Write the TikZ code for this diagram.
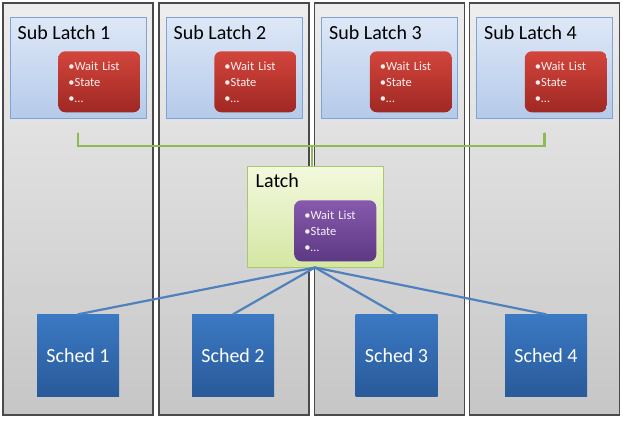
\documentclass[tikz,border=0pt]{standalone}
\usepackage{fontspec}
\setmainfont{Carlito}
\usetikzlibrary{positioning,calc}
\definecolor{colline}{HTML}{4A4A4A}
\definecolor{coltop}{HTML}{EDEDED}
\definecolor{colbot}{HTML}{C6C6C6}
\definecolor{subline}{HTML}{7FA3D4}
\definecolor{subtop}{HTML}{DEE8F7}
\definecolor{subbot}{HTML}{B5CAEA}
\definecolor{redtop}{HTML}{D2453C}
\definecolor{redbot}{HTML}{A02823}
\definecolor{latchline}{HTML}{A9C86C}
\definecolor{latchtop}{HTML}{F3F9DE}
\definecolor{latchbot}{HTML}{D4E6A3}
\definecolor{purptop}{HTML}{8659AC}
\definecolor{purpbot}{HTML}{5D3985}
\definecolor{schedtop}{HTML}{3B79C3}
\definecolor{schedbot}{HTML}{295A9A}
\definecolor{inkgreen}{HTML}{8DBB53}
\definecolor{inkblue}{HTML}{4F81BD}
\tikzset{column/.style={rectangle,draw=colline,line width=1.3pt,top color=coltop,bottom color=colbot,minimum width=150pt,minimum height=412pt,inner sep=0pt},sublatch/.style={rectangle,draw=subline,line width=1pt,top color=subtop,bottom color=subbot,minimum width=136pt,minimum height=101pt,inner sep=0pt},latchbox/.style={sublatch,draw=latchline,top color=latchtop,bottom color=latchbot},info/.style={rectangle,rounded corners=7pt,minimum width=82pt,minimum height=61pt,text width=62pt,inner xsep=10pt,inner ysep=0pt,align=left,font=\fontsize{12.5}{16}\selectfont},redinfo/.style={info,top color=redtop,bottom color=redbot,text=red!6},purpinfo/.style={info,top color=purptop,bottom color=purpbot,text=violet!6},title/.style={inner sep=0pt,font=\fontsize{20}{22}\selectfont},sched/.style={rectangle,top color=schedtop,bottom color=schedbot,minimum size=82pt,inner sep=0pt,text=white,font=\fontsize{20}{22}\selectfont},bracket/.style={inkgreen,line width=2.4pt},link/.style={inkblue,line width=2.2pt},every picture/.style={line cap=round}}
\begin{document}
\begin{tikzpicture}[x=1pt,y=-1pt]
\useasboundingbox (0,0) rectangle (623,421);
\foreach \i/\cx in {1/78,2/234,3/389.5,4/544.5}{
\node[column] (col\i) at (\cx,209) {};
\node[sublatch] (sub\i) at (\cx,67.5) {};
\node[title,anchor=base west] (subtitle\i) at ($(sub\i.north west)+(8,23)$) {Sub Latch \i};
\node[redinfo,anchor=south east] (subinfo\i) at ($(sub\i.south east)+(-6,-6)$) {•Wait List\\•State\\•…};
}
\node[latchbox] (latch) at (315,216.5) {};
\node[title,anchor=base west] (latchtitle) at ($(latch.north west)+(9,22)$) {Latch};
\node[purpinfo,anchor=south east] (latchinfo) at ($(latch.south east)+(-7,-6)$) {•Wait List\\•State\\•…};
\foreach \i/\cx in {1/78,2/233,3/396.5,4/546}{\node[sched] (sched\i) at (\cx,355.5) {Sched \i};}
% green bracket joining the sub latches to the latch
\coordinate (hub) at (312,146);
\draw[bracket] ($(sub1.south)+(0,15)$) |- (hub) -| ($(sub4.south)+(0,15)$);
\draw[bracket] (hub) -- (hub |- latch.north);
\foreach \i in {1,...,4}{\draw[link] (latch.south) -- (sched\i.north);}
\end{tikzpicture}
\end{document}
